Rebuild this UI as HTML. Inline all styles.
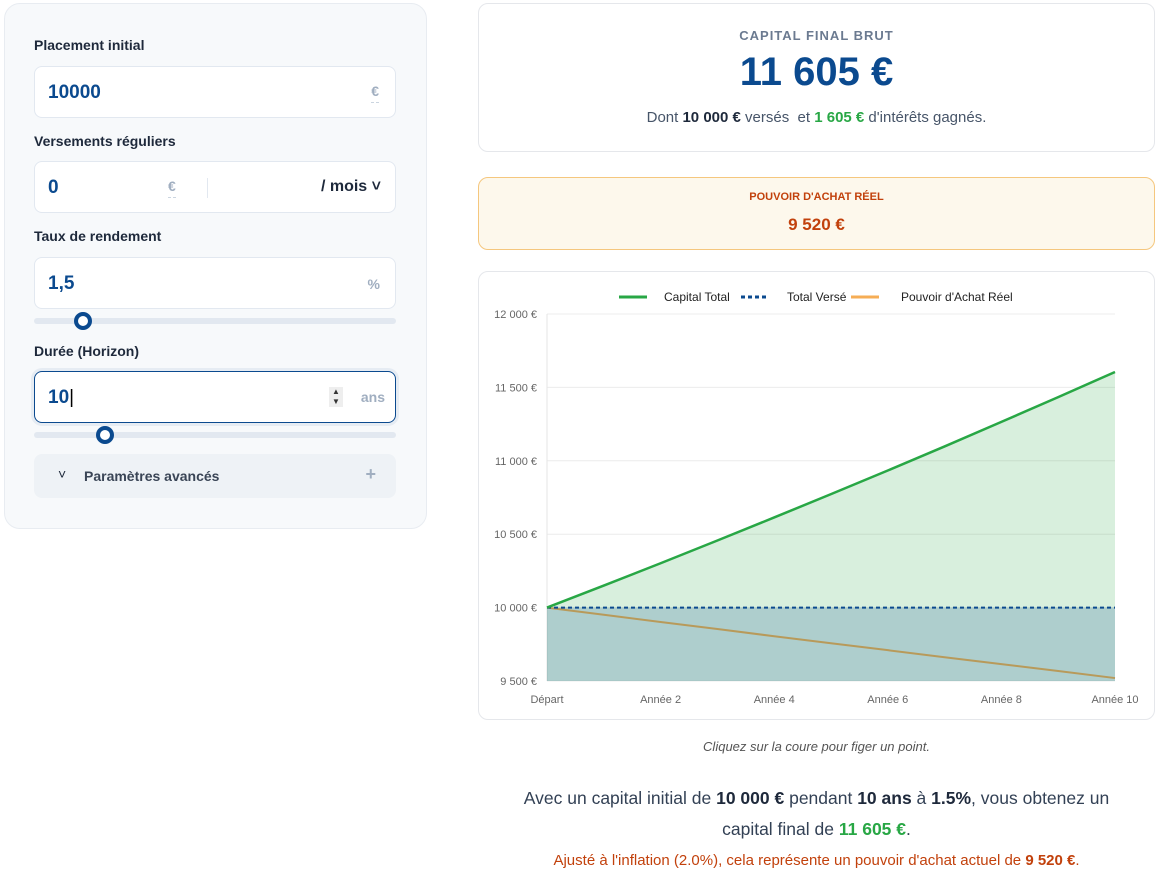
<!DOCTYPE html>
<html><head><meta charset="utf-8">
<style>
*{box-sizing:border-box;margin:0;padding:0}
body{width:1156px;height:880px;background:#fff;font-family:"Liberation Sans",sans-serif;position:relative;overflow:hidden;color:#1e293b}
.panel{position:absolute;left:4px;top:3px;width:423px;height:526px;background:#f7f9fb;border:1px solid #e8ecf1;border-radius:16px}
.lbl{position:absolute;left:34px;font-size:14px;font-weight:bold;color:#1e293b}
.inp{position:absolute;left:34px;width:362px;height:52px;background:#fff;border:1px solid #e2e8f0;border-radius:8px}
.val{position:absolute;left:13px;top:15px;font-size:19px;font-weight:bold;color:#0b4a8f}
.unit{position:absolute;font-size:14px;font-weight:bold;color:#a0aec0}
.track{position:absolute;left:34px;width:362px;height:6px;background:#e2e8f0;border-radius:3px}
.thumb{position:absolute;width:18px;height:18px;border:4px solid #0b4a8f;background:#fff;border-radius:50%}
.card{position:absolute;left:478px;width:677px;border:1px solid #e5e7eb;border-radius:10px;background:#fff}
</style></head><body>
<div class="panel"></div>
<div class="lbl" style="top:37px">Placement initial</div>
<div class="inp" style="top:66px"><span class="val">10000</span><span class="unit" style="right:16px;top:16px;border-bottom:1px dashed #cbd5e0;padding-bottom:3px">€</span></div>
<div class="lbl" style="top:133px">Versements réguliers</div>
<div class="inp" style="top:161px"><span class="val">0</span><span class="unit" style="left:133px;top:16px;border-bottom:1px dashed #cbd5e0;padding-bottom:3px">€</span><span style="position:absolute;left:172px;top:16px;width:1px;height:20px;background:#e2e8f0"></span><span style="position:absolute;right:14px;top:16px;font-size:16px;font-weight:bold;color:#1e293b">/ mois ˅</span></div>
<div class="lbl" style="top:228px">Taux de rendement</div>
<div class="inp" style="top:257px"><span class="val">1,5</span><span class="unit" style="right:15px;top:18px">%</span></div>
<div class="track" style="top:318px"></div>
<div class="thumb" style="left:74px;top:312px"></div>
<div class="lbl" style="top:343px">Durée (Horizon)</div>
<div class="inp" style="top:371px;border:1.5px solid #0b4a8f;box-shadow:0 0 0 3px #e6ecf3"><span class="val">10<span style="font-weight:normal;color:#000">|</span></span><span style="position:absolute;left:294px;top:15px;width:14px;height:20px;background:#eee;font-size:8px;color:#333;text-align:center;line-height:10px">▲<br>▼</span><span class="unit" style="right:10px;top:17px">ans</span></div>
<div class="track" style="top:432px"></div>
<div class="thumb" style="left:96px;top:426px"></div>
<div style="position:absolute;left:34px;top:454px;width:362px;height:44px;background:#eef2f6;border-radius:8px"><span style="position:absolute;left:24px;top:12px;font-size:14px;color:#1e293b">˅</span><span style="position:absolute;left:50px;top:14px;font-size:14px;font-weight:bold;color:#3a4556">Paramètres avancés</span><span style="position:absolute;right:20px;top:10px;font-size:18px;font-weight:bold;color:#a0aec0">+</span></div>

<div class="card" style="top:3px;height:149px">
<div style="position:absolute;top:24px;width:100%;text-align:center;font-size:13px;font-weight:bold;letter-spacing:1px;color:#6b7a90">CAPITAL FINAL BRUT</div>
<div style="position:absolute;top:46px;width:100%;text-align:center;font-size:40px;font-weight:bold;color:#0b4a8f">11 605 €</div>
<div style="position:absolute;top:105px;width:100%;text-align:center;font-size:15px;color:#475569">Dont <b style="color:#1e293b">10 000 €</b> versés &nbsp;et <b style="color:#28a745">1 605 €</b> d'intérêts gagnés.</div>
</div>
<div class="card" style="top:177px;height:73px;background:#fdf8ec;border-color:#f5c77e">
<div style="position:absolute;top:13px;width:100%;text-align:center;font-size:11px;font-weight:bold;color:#c2410c">POUVOIR D'ACHAT RÉEL</div>
<div style="position:absolute;top:37px;width:100%;text-align:center;font-size:17px;font-weight:bold;color:#c2410c">9 520 €</div>
</div>
<div class="card" style="top:271px;height:449px"></div>
<svg id="chart" style="position:absolute;left:0;top:0" width="1156" height="880"></svg>
<div style="position:absolute;top:739px;left:478px;width:677px;text-align:center;font-size:13px;font-style:italic;color:#555">Cliquez sur la coure pour figer un point.</div>
<div style="position:absolute;top:783px;left:478px;width:677px;text-align:center;font-size:17.5px;line-height:31px;color:#334155">Avec un capital initial de <b style="color:#1e293b">10 000 €</b> pendant <b style="color:#1e293b">10 ans</b> à <b style="color:#1e293b">1.5%</b>, vous obtenez un<br>capital final de <b style="color:#28a745">11 605 €</b>.</div>
<div style="position:absolute;top:852px;left:478px;width:677px;text-align:center;font-size:15px;color:#c2410c">Ajusté à l'inflation (2.0%), cela représente un pouvoir d'achat actuel de <b>9 520 €</b>.</div>
<script>
const categories=["Départ","Année 1","Année 2","Année 3","Année 4","Année 5","Année 6","Année 7","Année 8","Année 9","Année 10"];
const capitalTotal=[10000,10150,10302,10457,10614,10773,10934,11098,11265,11434,11605];
const totalVerse=[10000,10000,10000,10000,10000,10000,10000,10000,10000,10000,10000];
const pouvoirAchat=[10000,9951,9902,9854,9805,9757,9710,9662,9615,9568,9520];
const yTicks=[9500,10000,10500,11000,11500,12000];
const yMin=9500,yMax=12000;
const L=547,R=1115,T=314,B=681;
const sx=i=>L+(R-L)*i/(categories.length-1);
const sy=v=>B-(B-T)*(v-yMin)/(yMax-yMin);
const svg=document.getElementById('chart');const NS='http://www.w3.org/2000/svg';
function mk(t,a){const e=document.createElementNS(NS,t);for(const k in a)e.setAttribute(k,a[k]);svg.appendChild(e);return e;}
yTicks.forEach(v=>{const g=mk('line',{x1:L,x2:R,y1:sy(v),y2:sy(v),stroke:'#ececec'});


const t=mk('text',{x:L-10,y:sy(v)+4,'text-anchor':'end','font-size':11,fill:'#666','font-family':'Liberation Sans'});t.textContent=v.toLocaleString('fr-FR').replace(/\s/g,' ')+' €';

});
mk('line',{x1:L,x2:L,y1:T,y2:B,stroke:'#e5e5e5'});
categories.forEach((c,i)=>{if(i%2)return;const t=mk('text',{x:sx(i),y:703,'text-anchor':'middle','font-size':11,fill:'#666','font-family':'Liberation Sans'});t.textContent=c;

});
function pts(a){return a.map((v,i)=>sx(i)+','+sy(v)).join(' ');}
const ga=mk('polygon',{points:pts(capitalTotal)+` ${R},${B} ${L},${B}`,fill:'rgba(40,167,69,0.18)'});


const ba=mk('polygon',{points:pts(totalVerse)+` ${R},${B} ${L},${B}`,fill:'rgba(11,74,143,0.2)'});


const lo=mk('polyline',{points:pts(pouvoirAchat),fill:'none',stroke:'#b89a5a','stroke-width':2});


const lb=mk('polyline',{points:pts(totalVerse),fill:'none',stroke:'#0b4a8f','stroke-width':2,'stroke-dasharray':'4 3'});


const lg=mk('polyline',{points:pts(capitalTotal),fill:'none',stroke:'#28a745','stroke-width':2.5});


const leg=[['Capital Total','#28a745','',619,664],['Total Versé','#0b4a8f','4 3',741,787],['Pouvoir d\'Achat Réel','#f6ad55','',851,901]];
leg.forEach(l=>{const a=mk('line',{x1:l[3],x2:l[3]+28,y1:297,y2:297,stroke:l[1],'stroke-width':3,'stroke-dasharray':l[2]});


const t=mk('text',{x:l[4],y:301,'font-size':12,fill:'#222','font-family':'Liberation Sans'});t.textContent=l[0];

});
</script>
</body></html>
